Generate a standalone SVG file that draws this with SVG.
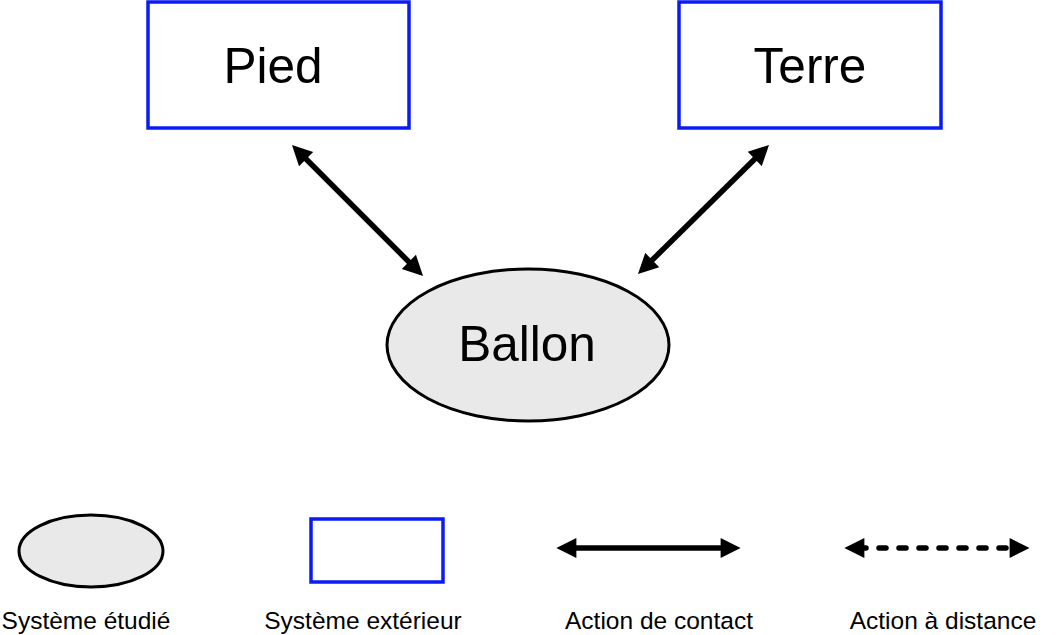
<svg xmlns="http://www.w3.org/2000/svg" width="1058" height="635" viewBox="0 0 1058 635">
<style>
.ext{fill:#fff;stroke:#0a1cf5;stroke-width:3.5}
.sys{fill:#e9e9e9;stroke:#000;stroke-width:3}
.big{font-family:"Liberation Sans",Arial,sans-serif;font-size:49.5px;fill:#000;text-anchor:middle}
.lab{font-family:"Liberation Sans",Arial,sans-serif;font-size:24.5px;fill:#000;text-anchor:middle}
.con{stroke:#000;stroke-width:5.5;fill:none}
</style>
<defs>
<marker id="ah" viewBox="0 0 10 10" refX="2.7" refY="5" markerWidth="22" markerHeight="20" orient="auto-start-reverse" markerUnits="userSpaceOnUse">
<path d="M0,0 L10,5 L0,10 z" fill="#000"/>
</marker>
</defs>
<g id="pied"><rect class="ext" x="148" y="2" width="261" height="126"/><text class="big" x="273" y="83">Pied</text></g>
<g id="terre"><rect class="ext" x="679" y="2" width="262" height="126"/><text class="big" x="810" y="83">Terre</text></g>
<g id="ballon"><ellipse class="sys" cx="528" cy="345" rx="141" ry="76"/><text class="big" x="527" y="361">Ballon</text></g>
<g id="connectors">
<line class="con" x1="302.3" y1="155.3" x2="412.7" y2="265.7" marker-start="url(#ah)" marker-end="url(#ah)"/>
<line class="con" x1="758.6" y1="155.2" x2="648.4" y2="263.8" marker-start="url(#ah)" marker-end="url(#ah)"/>
</g>
<g id="legend">
<ellipse class="sys" cx="91" cy="551" rx="72" ry="36"/>
<text class="lab" x="86" y="629">Système étudié</text>
<rect class="ext" x="311" y="519" width="132" height="63"/>
<text class="lab" x="363" y="629">Système extérieur</text>
<line class="con" x1="571" y1="548" x2="726" y2="548" marker-start="url(#ah)" marker-end="url(#ah)"/>
<text class="lab" x="659" y="629">Action de contact</text>
<line class="con" x1="859" y1="548" x2="1015" y2="548" stroke-dasharray="7 13" stroke-linecap="round" marker-start="url(#ah)" marker-end="url(#ah)"/>
<text class="lab" x="943" y="629">Action à distance</text>
</g>
</svg>
